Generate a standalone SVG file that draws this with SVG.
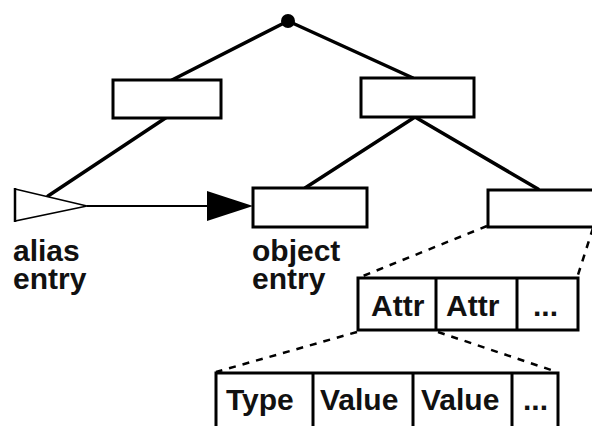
<svg xmlns="http://www.w3.org/2000/svg" width="592" height="426" viewBox="0 0 592 426">
  <style>
    .box { fill: #fff; stroke: #000; stroke-width: 3; }
    .edge { fill: none; stroke: #000; stroke-width: 3.5; stroke-linecap: round; }
    .dash { fill: none; stroke: #000; stroke-width: 2.5; stroke-dasharray: 7 7; }
    .cell { fill: none; stroke: #000; stroke-width: 3; }
    text { font-family: "Liberation Sans", Arial, sans-serif; font-weight: bold; font-size: 30px; fill: #111; }
  </style>
  <rect width="592" height="426" fill="#fff"/>

  <!-- tree edges -->
  <g id="connectors">
    <line class="edge" x1="288" y1="21" x2="172" y2="80"/>
    <line class="edge" x1="288" y1="21" x2="413" y2="78"/>
    <line class="edge" x1="167" y1="117" x2="48" y2="196"/>
    <line class="edge" x1="415" y1="117" x2="305" y2="188"/>
    <line class="edge" x1="415" y1="117" x2="538" y2="189"/>
    <!-- alias link -->
    <line x1="87" y1="206" x2="208" y2="206" stroke="#000" stroke-width="2.2"/>
    <polygon points="207,191 253,206 207,221" fill="#000"/>
    <!-- expansion of the entry into its attributes -->
    <line class="dash" x1="487" y1="226" x2="358" y2="278"/>
    <line class="dash" x1="593" y1="228" x2="577" y2="278"/>
    <line class="dash" x1="357" y1="332" x2="216" y2="372"/>
    <line class="dash" x1="438" y1="332" x2="557" y2="372"/>
  </g>

  <g id="root">
    <circle cx="288" cy="21" r="7" fill="#000"/>
  </g>

  <g id="node-left">
    <rect class="box" x="113" y="80" width="108" height="38"/>
  </g>

  <g id="node-right">
    <rect class="box" x="361" y="78" width="113" height="39"/>
  </g>

  <g id="alias-entry">
    <polygon points="15,189 87,206 15,221" fill="#fff" stroke="#000" stroke-width="1.5"/>
    <line x1="15" y1="188" x2="15" y2="222" stroke="#000" stroke-width="2.5"/>
    <text x="13" y="261">alias<tspan x="13" dy="28">entry</tspan></text>
  </g>

  <g id="object-entry">
    <rect class="box" x="253" y="188" width="114" height="39"/>
    <text x="252" y="261">object<tspan x="252" dy="28">entry</tspan></text>
  </g>

  <g id="entry-right">
    <rect class="box" x="488" y="190" width="120" height="37"/>
  </g>

  <g id="attributes">
    <rect class="box" x="358" y="278" width="220" height="52"/>
    <line class="cell" x1="436" y1="278" x2="436" y2="330"/>
    <line class="cell" x1="517" y1="278" x2="517" y2="330"/>
    <text x="371" y="316">Attr</text>
    <text x="446" y="316">Attr</text>
    <text x="533" y="316">...</text>
  </g>

  <g id="attribute-values">
    <rect class="box" x="216" y="373" width="342" height="70"/>
    <line class="cell" x1="313" y1="373" x2="313" y2="426"/>
    <line class="cell" x1="413" y1="373" x2="413" y2="426"/>
    <line class="cell" x1="512" y1="373" x2="512" y2="426"/>
    <text x="226" y="410">Type</text>
    <text x="320" y="410">Value</text>
    <text x="421" y="410">Value</text>
    <text x="523" y="410">...</text>
  </g>
</svg>
